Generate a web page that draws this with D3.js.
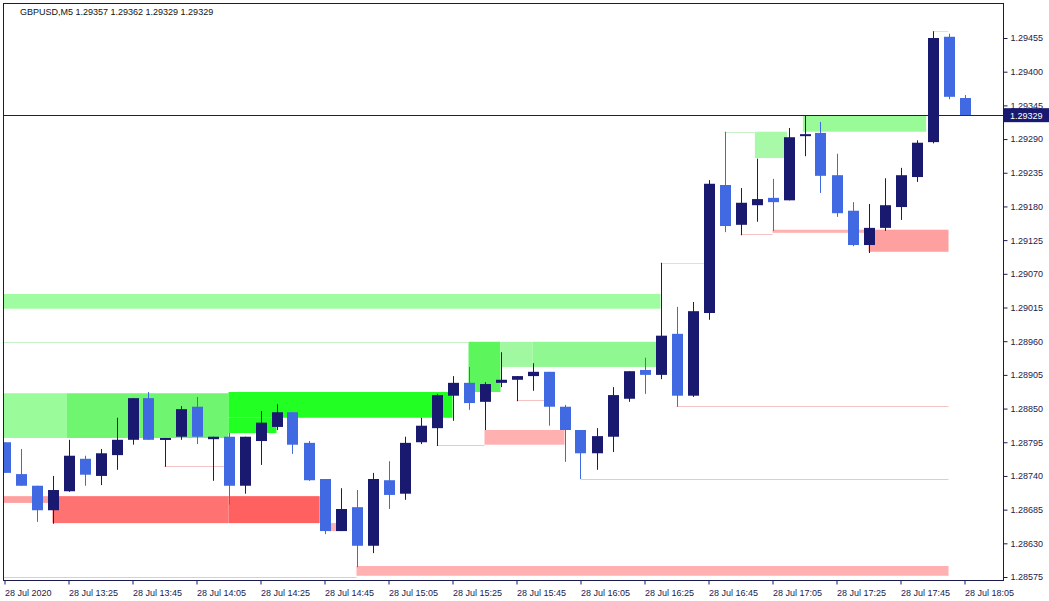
<!DOCTYPE html>
<html><head><meta charset="utf-8">
<script src="https://cdn.jsdelivr.net/npm/d3@7"></script>
<style>body{margin:0;background:#fff}svg{display:block}text{font-family:"Liberation Sans",Arial,sans-serif}</style>
</head><body>
<svg id="c" width="1049" height="601"></svg>
<script>
// OHLC in points (1e-5)
const opens  = [128795,128743,128724,128684,128715,128768,128740,128774,128799,128867,128800,128804,128853,128800,128804,128724,128797,128820,128844,128794,128735,128650,128689,128626,128733,128711,128795,128818,128871,128892,128861,128892,128897,128903,128910,128853,128815,128777,128804,128866,128913,128905,128972,128871,129006,129215,129150,129182,129194,129190,129295,129300,129231,129173,129117,129145,129179,129228,129285,129457,129357];
const highs  = [128795,128784,128724,128740,128799,128773,128784,128835,128867,128877,128802,128854,128869,128804,128810,128804,128846,128857,128844,128797,128735,128720,128717,128745,128764,128804,128835,128874,128903,128918,128893,128942,128903,128924,128910,128856,128815,128818,128885,128911,128933,129088,129016,129024,129223,129302,129210,129258,129225,129308,129328,129318,129266,129187,129184,129226,129243,129288,129466,129462,129362];
const lows   = [128745,128724,128665,128662,128714,128724,128725,128750,128791,128799,128755,128799,128792,128732,128693,128711,128758,128815,128776,128732,128645,128650,128591,128614,128686,128701,128792,128789,128830,128848,128815,128885,128862,128879,128822,128763,128735,128750,128779,128861,128874,128898,128853,128869,128995,129138,129133,129155,129140,129190,129262,129202,129163,129115,129104,129140,129158,129220,129283,129355,129329];
const closes = [128745,128724,128684,128717,128773,128742,128777,128799,128867,128799,128802,128849,128804,128804,128724,128804,128827,128844,128791,128733,128650,128686,128626,128735,128709,128794,128822,128872,128892,128859,128890,128897,128903,128910,128853,128815,128777,128805,128872,128911,128905,128969,128871,129009,129217,129148,129186,129192,129187,129293,129298,129230,129169,129117,129145,129182,129231,129284,129455,129359,129329];
const timeLabels = ["28 Jul 2020","28 Jul 13:25","28 Jul 13:45","28 Jul 14:05","28 Jul 14:25","28 Jul 14:45","28 Jul 15:05","28 Jul 15:25","28 Jul 15:45","28 Jul 16:05","28 Jul 16:25","28 Jul 16:45","28 Jul 17:05","28 Jul 17:25","28 Jul 17:45","28 Jul 18:05"];
const priceTicks = [128575,128630,128685,128740,128795,128850,128905,128960,129015,129070,129125,129180,129235,129290,129345,129400,129455];
// zones: [fromIndex, toIndex, top, bottom, colour]
const zones = [
 [-0.2,41,129037,129013,"#a0fca0"],
 [-0.2,3.9,128875,128802,"#99fb99"],
 [3.9,14,128875,128802,"#70f570"],
 [14,28,128877,128835,"#22ff22"],
 [14,17,128835,128810,"#22ff22"],
 [29,31,128959,128877,"#5cf55c"],
 [31,33,128959,128918,"#a0f8a0"],
 [33,41,128959,128918,"#90f890"],
 [46.9,48.9,129302,129259,"#a8faa8"],
 [49.9,57.6,129328,129302,"#98fb98"],
 [-0.2,3,128707,128696,"#ffa0a0"],
 [3,14,128707,128663,"#ff7272"],
 [14,19.7,128707,128663,"#ff6060"],
 [20.2,21.2,128663,128650,"#ffb0b0"],
 [22,59,128593,128577,"#ffb0b0"],
 [30,35,128815,128791,"#ffb0b0"],
 [48,54,129142,129137,"#ffb0b0"],
 [54,59,129142,129106,"#ffa0a0"]
];
// thin lines: [from, to, price, colour]
const lines = [
 [-0.2,29,128959,"#c8f0c8"],[41,44,129088,"#c8f0c8"],[45,47,129302,"#c8f0c8"],[58,59,129466,"#c8f0c8"],
 [27,30,128791,"#f4c4c4"],[32,34,128864,"#f4c4c4"],[36,59,128735,"#f4c4c4"],[42,59,128854,"#f4c4c4"],
 [10,14,128756,"#f4c4c4"],[46,48,129135,"#f4c4c4"],[-0.2,22,128575,"#f4c4c4"]
];
const lastPrice = 129329;

const svg = d3.select("#c");
const x = d3.scaleLinear().domain([0,60]).range([4.5,964.5]);
const y = d3.scaleLinear().domain([128575,129455]).range([577,38]);
const L=3,R=1003,T=3,B=580;
const g = svg.append("g");
g.append("defs").append("clipPath").attr("id","cp").append("rect").attr("x",L).attr("y",T).attr("width",R-L).attr("height",B-T);
const p = g.append("g").attr("clip-path","url(#cp)");
p.selectAll(".z").data(zones).enter().append("rect")
 .attr("x",d=>x(d[0])).attr("width",d=>x(d[1])-x(d[0]))
 .attr("y",d=>y(d[2])).attr("height",d=>y(d[3])-y(d[2])).attr("fill",d=>d[4]);
p.selectAll(".l").data(lines).enter().append("line")
 .attr("x1",d=>x(d[0])).attr("x2",d=>x(d[1])).attr("y1",d=>Math.round(y(d[2]))+0.5).attr("y2",d=>Math.round(y(d[2]))+0.5)
 .attr("stroke",d=>d[3]).attr("stroke-width",1);
p.append("line").attr("x1",L).attr("x2",R).attr("y1",Math.round(y(lastPrice))+0.5).attr("y2",Math.round(y(lastPrice))+0.5).attr("stroke","#191970");
const idx = d3.range(opens.length);
const col = i => closes[i]>=opens[i] ? "#191970" : "#4169e1";
p.selectAll(".w").data(idx).enter().append("line")
 .attr("x1",i=>Math.round(x(i))+0.5).attr("x2",i=>Math.round(x(i))+0.5)
 .attr("y1",i=>y(highs[i])).attr("y2",i=>y(lows[i])).attr("stroke",col);
p.selectAll(".b").data(idx).enter().append("rect")
 .attr("x",i=>Math.round(x(i))-5).attr("width",11)
 .attr("y",i=>y(Math.max(opens[i],closes[i])))
 .attr("height",i=>Math.max(2,Math.abs(y(opens[i])-y(closes[i]))))
 .attr("fill",col);
// frame
g.append("rect").attr("x",L+0.5).attr("y",T+0.5).attr("width",R-L).attr("height",B-T).attr("fill","none").attr("stroke","#1a1a50");
// price axis
const ya = g.append("g").attr("transform",`translate(${R+0.5},0)`)
 .call(d3.axisRight(y).tickValues(priceTicks).tickSize(4).tickFormat(v=>(v/100000).toFixed(5)));
ya.select(".domain").remove();
ya.selectAll("line").attr("stroke","#1a1a50");
ya.selectAll("text").attr("fill","#1a1a50").style("font-size","9px").attr("x",7);
g.append("rect").attr("x",R+1).attr("y",y(lastPrice)-7).attr("width",45).attr("height",14).attr("fill","#191970");
g.append("text").attr("x",R+7).attr("y",y(lastPrice)+3.5).attr("fill","#fff").style("font-size","9px").text((lastPrice/100000).toFixed(5));
// time axis
const xa = g.append("g").attr("transform",`translate(0,${B+0.5})`)
 .call(d3.axisBottom(x).tickValues(d3.range(0,61,4)).tickSize(4).tickFormat((d,i)=>timeLabels[i]));
xa.select(".domain").remove();
xa.selectAll("line").attr("stroke","#1a1a50");
xa.selectAll("text").attr("fill","#1a1a50").style("font-size","9px").attr("text-anchor","start").attr("x",0).attr("dy","0.9em");
g.append("text").attr("x",20).attr("y",15).attr("fill","#111").style("font-size","9px")
 .text(`GBPUSD,M5  ${(opens[60]/1e5).toFixed(5)} ${(highs[60]/1e5).toFixed(5)} ${(lows[60]/1e5).toFixed(5)} ${(closes[60]/1e5).toFixed(5)}`);
</script></body></html>
